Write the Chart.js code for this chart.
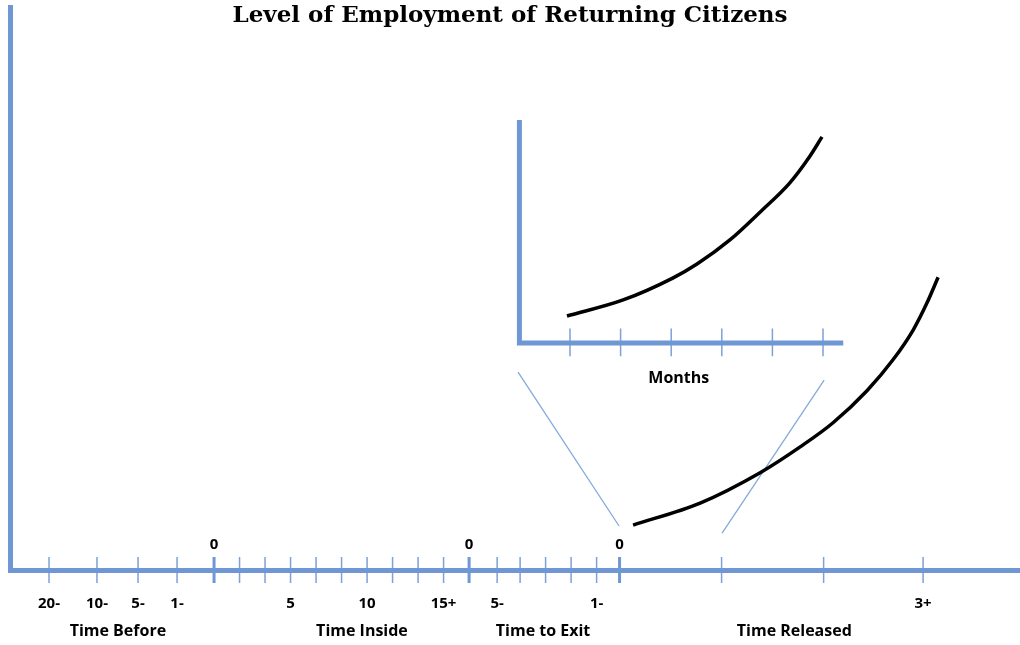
<!DOCTYPE html>
<html>
<head>
<meta charset="utf-8">
<title>Level of Employment of Returning Citizens</title>
<script src="https://cdn.jsdelivr.net/npm/chart.js@4/dist/chart.umd.min.js"></script>
<style>
html, body { margin: 0; padding: 0; background: #fff; }
canvas { display: block; }
</style>
</head>
<body>
<canvas id="chart" width="1020" height="645"></canvas>
<script>
(function() {

// Main timeline: one unit = one small tick of "Time Inside"; 0 = entering prison
const tickPos = [-6.47, -4.59, -2.98, -1.45,
                 1, 2, 3, 4, 5, 6, 7, 8, 9,
                 11.1, 12, 13, 14, 15,
                 19.9, 23.9, 27.8];
const zeroPos = [0, 10, 15.9];
const labelPos  = [-6.47, -4.59, -2.98, -1.45, 3, 6, 9, 11.1, 15, 27.8];
const labelText = ['20-', '10-', '5-', '1-', '5', '10', '15+', '5-', '1-', '3+'];
const groupPos  = [-3.77, 5.8, 12.9, 22.75];
const groupText = ['Time Before', 'Time Inside', 'Time to Exit', 'Time Released'];

// employment level after release (main scale, 0-100)
const releasedX = [16.43, 19.06, 21.41, 22.98, 24.27, 25.6, 26.62, 27.41, 27.95, 28.39];
const releasedY = [8.0, 11.9, 17.3, 21.9, 26.2, 31.9, 37.4, 42.7, 47.5, 52.1];

// inset: first months after release
const insetTitle = 'Months';
const monthTicks = [1, 2, 3, 4, 5, 6];
const monthsX = [0.94, 2.05, 3.03, 3.51, 4.16, 4.78, 5.34, 5.73, 5.98];
const monthsY = [12.1, 19.3, 29.1, 35.4, 46.2, 59.2, 71.7, 83.4, 92.4];

// zoom guide lines, inset edge -> main timeline
const guideX = [[11.92, 15.88], [23.92, 19.92]];
const guideY = [[35.2, 7.83], [33.8, 6.58]];

const AXIS = '#6f97d3',
      TICK = '#7ea1d6',
      GUIDE = '#86a8da',
      FONT = '"Open Sans", "DejaVu Sans", sans-serif';

function segments(xs, lo, hi) {
    return xs.flatMap(v => [{x: v, y: lo}, {x: v, y: hi}, {x: v, y: null}]);
}

function line(data, color, width, extra) {
    return Object.assign({
        data: data,
        borderColor: color,
        borderWidth: width,
        pointRadius: 0,
        fill: false,
        tension: 0,
        clip: false,
        borderCapStyle: 'butt',
        spanGaps: false
    }, extra || {});
}

const datasets = [
    // inset axes (drawn on top of its ticks)
    line([{x: 0, y: 100}, {x: 0, y: 0}, {x: 6.4, y: 0}], AXIS, 5,
         {xAxisID: 'xi', yAxisID: 'yi', borderJoinStyle: 'miter', order: 1}),
    line(segments(monthTicks, -6, 6.5), TICK, 1.5,
         {xAxisID: 'xi', yAxisID: 'yi', order: 2}),
    line(monthsX.map((x, i) => ({x: x, y: monthsY[i]})), '#000', 3.5,
         {xAxisID: 'xi', yAxisID: 'yi', cubicInterpolationMode: 'monotone', order: 1}),
    line(releasedX.map((x, i) => ({x: x, y: releasedY[i]})), '#000', 3.5,
         {cubicInterpolationMode: 'monotone', order: 1}),
    line(guideX.flatMap((xs, i) => [{x: xs[0], y: guideY[i][0]}, {x: xs[1], y: guideY[i][1]}, {x: xs[1], y: null}]),
         GUIDE, 1.3, {order: 2}),
    line(segments(tickPos, -2.3, 2.3), TICK, 1.5, {order: 2}),
    line(segments(zeroPos, -2.3, 2.3), AXIS, 3, {order: 2})
];

const annotate = {
    id: 'annotate',
    afterDraw(chart) {
        const {ctx, scales} = chart;
        ctx.save();
        ctx.fillStyle = '#000';
        ctx.textAlign = 'center';
        ctx.textBaseline = 'middle';
        ctx.font = 'bold 15px ' + FONT;
        zeroPos.forEach(v => {
            ctx.fillText('0', scales.x.getPixelForValue(v), scales.y.getPixelForValue(4.45));
        });
        ctx.font = 'bold 16px ' + FONT;
        ctx.fillText(insetTitle, scales.xi.getPixelForValue(3.15), scales.yi.getPixelForValue(-16.1));
        ctx.restore();
    }
};

// hidden scales for the inset: no space taken in the layout
const hidden = {
    type: 'linear', display: false,
    grid: {display: false, drawTicks: false},
    border: {display: false},
    ticks: {display: false}
};

const config = {
    type: 'line',
    data: {datasets: datasets},
    plugins: [annotate],
    options: {
        responsive: false,
        animation: false,
        events: [],
        layout: {padding: {left: 0, right: 0, top: 0, bottom: 5}},
        plugins: {
            legend: {display: false},
            tooltip: {enabled: false},
            title: {
                display: true,
                text: 'Level of Employment of Returning Citizens',
                color: '#000',
                font: {family: '"DejaVu Serif", serif', size: 23, weight: 'bold'},
                padding: {top: 2, bottom: -21.6}
            }
        },
        scales: {
            x: {
                type: 'linear', position: 'bottom', min: -8, max: 31.6,
                grid: {display: false, drawTicks: false},
                border: {color: AXIS, width: 5, z: 1},
                afterBuildTicks: s => { s.ticks = labelPos.map(v => ({value: v})); },
                afterFit: s => { s.height = 42; },
                ticks: {
                    padding: 25, color: '#000', autoSkip: false, maxRotation: 0,
                    font: {family: FONT, size: 15, weight: 'bold'},
                    callback: (v, i) => labelText[i]
                }
            },
            x2: {
                type: 'linear', position: 'bottom', min: -8, max: 31.6,
                grid: {display: false, drawTicks: false},
                border: {display: false},
                afterBuildTicks: s => { s.ticks = groupPos.map(v => ({value: v})); },
                afterFit: s => { s.height = 28; },
                ticks: {
                    padding: 9.4, color: '#000', autoSkip: false, maxRotation: 0,
                    font: {family: FONT, size: 16, weight: 'bold'},
                    callback: (v, i) => groupText[i]
                }
            },
            y: {
                type: 'linear', position: 'left', min: 0, max: 100,
                grid: {display: false, drawTicks: false},
                border: {color: AXIS, width: 5},
                afterFit: s => { s.width = 10; },
                ticks: {display: false}
            },
            xi: Object.assign({}, hidden, {min: -10.067, max: 9.893}),
            yi: Object.assign({}, hidden, {min: -101.8, max: 150.2})
        }
    }
};

new Chart(document.getElementById('chart').getContext('2d'), config);

})();
</script>
</body>
</html>
